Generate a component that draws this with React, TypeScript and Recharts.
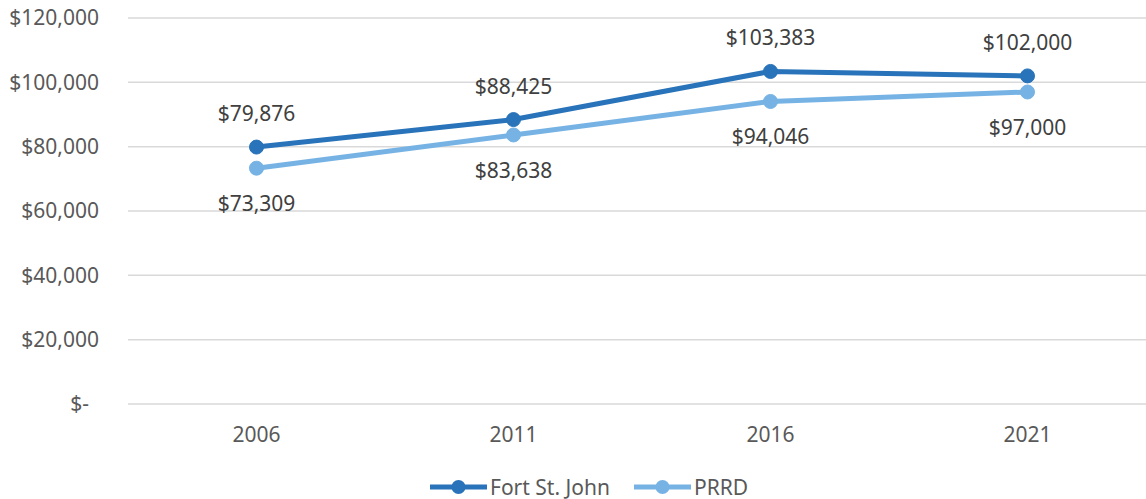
import React from "react";
import {
  LineChart,
  Line,
  XAxis,
  YAxis,
  CartesianGrid,
  Legend,
  LabelList,
} from "recharts";

const years = ["2006", "2011", "2016", "2021"];
const fortStJohn = [79876, 88425, 103383, 102000];
const prrd = [73309, 83638, 94046, 97000];
const yTicks = [0, 20000, 40000, 60000, 80000, 100000, 120000];

const data = years.map((year, i) => ({
  year,
  fsj: fortStJohn[i],
  prrd: prrd[i],
}));

const DARK = "#2873B9";
const LIGHT = "#76B3E4";
const TEXT = "#595959";
const FONT = "'Noto Sans', 'Open Sans', sans-serif";

const money = (v: number) => "$" + v.toLocaleString("en-US");

const YTick = (props: any) => {
  const { x, y, payload } = props;
  const v = payload.value as number;
  return (
    <text
      x={v === 0 ? x - 10 : x}
      y={y}
      dy="0.35em"
      textAnchor="end"
      fill={TEXT}
      fontSize={21}
      fontFamily={FONT}
    >
      {v === 0 ? "$-" : money(v)}
    </text>
  );
};

const LegendContent = () => (
  <div
    style={{
      display: "flex",
      alignItems: "center",
      height: 45,
      marginLeft: 430,
      paddingTop: 20,
      boxSizing: "border-box",
      fontFamily: FONT,
      fontSize: 21,
      color: TEXT,
    }}
  >
    {[
      { name: "Fort St. John", color: DARK },
      { name: "PRRD", color: LIGHT },
    ].map((s) => (
      <div
        key={s.name}
        style={{ display: "flex", alignItems: "center", marginRight: 24 }}
      >
        <svg width={58} height={16}>
          <line x1={0} y1={8} x2={57} y2={8} stroke={s.color} strokeWidth={5} />
          <circle cx={28.5} cy={8} r={7} fill={s.color} />
        </svg>
        <span style={{ marginLeft: 2 }}>{s.name}</span>
      </div>
    ))}
  </div>
);

export default function App() {
  return (
    <div
      style={{
        position: "absolute",
        left: 0,
        top: 0,
        width: 1146,
        height: 499,
        overflow: "hidden",
        background: "#fff",
      }}
    >
      <LineChart
        width={1156}
        height={499}
        data={data}
        margin={{ top: 18, right: 0, bottom: 0, left: 0 }}
      >
        <CartesianGrid vertical={false} stroke="#D9D9D9" strokeWidth={1.5} />
        <XAxis
          dataKey="year"
          axisLine={false}
          tickLine={false}
          tickSize={0}
          tickMargin={23}
          height={50}
          padding={{ left: 128.5, right: 128.5 }}
          tick={{ fill: TEXT, fontSize: 21, fontFamily: FONT }}
        />
        <YAxis
          domain={[0, 120000]}
          ticks={yTicks}
          axisLine={false}
          tickLine={false}
          tickSize={0}
          tickMargin={29}
          width={128}
          tick={<YTick />}
        />
        <Legend
          verticalAlign="bottom"
          content={<LegendContent />}
          wrapperStyle={{ height: 45 }}
        />
        <Line
          dataKey="fsj"
          name="Fort St. John"
          stroke={DARK}
          strokeWidth={5}
          dot={{ r: 7, fill: DARK, stroke: DARK, strokeWidth: 1 }}
          isAnimationActive={false}
        >
          <LabelList
            dataKey="fsj"
            position="top"
            offset={26}
            formatter={(v: any) => money(Number(v))}
            style={{ fill: "#404040", fontSize: 21, fontFamily: FONT }}
          />
        </Line>
        <Line
          dataKey="prrd"
          name="PRRD"
          stroke={LIGHT}
          strokeWidth={5}
          dot={{ r: 7, fill: LIGHT, stroke: LIGHT, strokeWidth: 1 }}
          isAnimationActive={false}
        >
          <LabelList
            dataKey="prrd"
            position="bottom"
            offset={28}
            formatter={(v: any) => money(Number(v))}
            style={{ fill: "#404040", fontSize: 21, fontFamily: FONT }}
          />
        </Line>
      </LineChart>
    </div>
  );
}
